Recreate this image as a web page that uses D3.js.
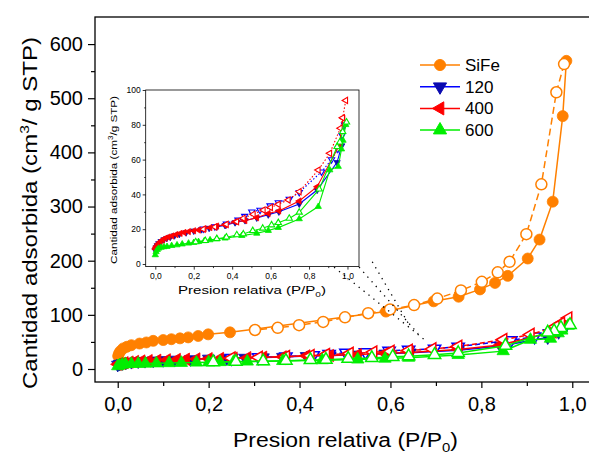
<!DOCTYPE html>
<html>
<head>
<meta charset="utf-8">
<script src="https://cdn.jsdelivr.net/npm/d3@7"></script>
<style>
  body { margin: 0; background: #fff; }
  svg { display: block; }
  text { font-family: "Liberation Sans", Arial, sans-serif; fill: #000; }
</style>
</head>
<body>
<svg id="chart" width="589" height="455"></svg>
<script>
// ---- N2 isotherm data: [relative pressure P/P0, adsorbed volume cm3/g STP] ----
const sifeAdsorption = [[0.001,24],[0.003,29],[0.006,33],[0.012,38],[0.02,41],[0.03,44],[0.048,47],[0.063,49],[0.078,52],[0.1,53.5],[0.118,55],[0.137,56.6],[0.155,58.4],[0.177,61],[0.199,64],[0.247,67.7],[0.59,106],[0.695,125],[0.75,133.5],[0.797,147],[0.83,159],[0.858,172],[0.902,204],[0.928,239],[0.957,309],[0.979,467],[0.987,569]];
const sifeDesorption = [[0.982,563],[0.965,511],[0.932,341],[0.899,249],[0.862,198],[0.836,178.5],[0.801,161],[0.755,145],[0.703,130],[0.652,118],[0.599,110],[0.551,103],[0.5,95.4],[0.452,87],[0.399,81],[0.352,76],[0.302,72]];

const s120Adsorption = [[0.0,7.8],[0.004,9.4],[0.01,10.6],[0.018,11.8],[0.03,13],[0.045,14],[0.06,14.8],[0.078,15.5],[0.1,16.3],[0.125,17.1],[0.16,18],[0.2,19],[0.24,19.8],[0.28,20.6],[0.32,21.4],[0.363,22.2],[0.415,23.8],[0.467,25],[0.528,26.5],[0.588,28.3],[0.643,30],[0.749,34.5],[0.842,42.5],[0.946,58.4],[0.97,68],[0.986,80]];
const s120Desorption = [[0.985,80],[0.972,74],[0.95,66],[0.917,60],[0.865,53],[0.749,41.2],[0.697,37.3],[0.64,35.3],[0.597,33.5],[0.545,31],[0.502,30],[0.465,27.5],[0.43,25.3],[0.37,23],[0.31,21.5],[0.25,20.2]];

const s400Adsorption = [[0.0,8.6],[0.003,9.6],[0.009,10.5],[0.015,11.6],[0.026,12.8],[0.038,13.9],[0.052,14.8],[0.068,15.5],[0.087,16.1],[0.108,16.9],[0.13,17.6],[0.15,18.1],[0.173,18.6],[0.2,19.1],[0.225,19.5],[0.255,20.2],[0.285,20.9],[0.32,21.8],[0.363,22.4],[0.415,24.3],[0.467,24.9],[0.528,26.6],[0.588,29],[0.643,30.5],[0.749,36.2],[0.842,44.4],[0.957,68],[0.977,83.7]];
const s400Desorption = [[0.991,94],[0.975,84],[0.963,78],[0.908,63.6],[0.848,54],[0.749,41.6],[0.692,36.8],[0.64,34.3],[0.6,32.5],[0.562,31],[0.51,28.6],[0.458,26.3],[0.424,24.3],[0.37,22.8],[0.31,21.3],[0.25,20]];

const s600Adsorption = [[0.0,5.2],[0.004,7],[0.01,8.2],[0.017,9],[0.03,9.5],[0.045,9.8],[0.061,10],[0.085,10.5],[0.113,10.9],[0.14,11.4],[0.173,11.9],[0.2,12.3],[0.225,12.8],[0.255,13.3],[0.285,13.8],[0.32,14.3],[0.363,14.8],[0.45,16.3],[0.528,17.6],[0.588,19.2],[0.64,20.9],[0.749,25.9],[0.848,33],[0.908,54],[0.952,56],[0.969,66],[0.977,71],[0.991,80]];
const s600Desorption = [[0.995,81.5],[0.975,76],[0.96,70],[0.946,67.4],[0.853,43],[0.749,29.7],[0.697,26.2],[0.64,23.7],[0.605,22.4],[0.559,20.5],[0.507,19.1],[0.458,17.2],[0.424,16.7],[0.37,15.4],[0.32,14.5],[0.26,13.4],[0.21,12.7]];

const seriesNames = ["SiFe", "120", "400", "600"];
const xTickValues = [0, 0.2, 0.4, 0.6, 0.8, 1.0];
const xMinorTickValues = [0.1, 0.3, 0.5, 0.7, 0.9];
const yTickValues = [0, 100, 200, 300, 400, 500, 600];
const yMinorTickValues = [50, 150, 250, 350, 450, 550];
const insetYTickValues = [0, 20, 40, 60, 80, 100];
const insetYMinorTickValues = [10, 30, 50, 70, 90];

// dotted guide lines between the inset and the low-pressure region (main-chart data units)
const guideLines = [
  [[0.476, 188], [0.681, 50]],
  [[0.531, 188], [0.661, 65]],
  [[0.560, 198], [0.643, 79]]
];

// ---- styles ----
const styles = {
  "SiFe": { color: "#FF8000", marker: "#FF8000", symbol: d3.symbolCircle, rotate: 0, withInset: false },
  "120":  { color: "#0000FF", marker: "#0A0AB0", symbol: d3.symbolTriangle, rotate: 180, withInset: true },
  "400":  { color: "#FF0000", marker: "#FF0000", symbol: d3.symbolTriangle, rotate: -90, withInset: true },
  "600":  { color: "#00EE00", marker: "#00EE00", symbol: d3.symbolTriangle, rotate: 0, withInset: true }
};
const seriesData = {
  "SiFe": [sifeAdsorption, sifeDesorption],
  "120":  [s120Adsorption, s120Desorption],
  "400":  [s400Adsorption, s400Desorption],
  "600":  [s600Adsorption, s600Desorption]
};
const desorptionDash = { "SiFe": "7,4", "120": "5,3", "400": "5,3", "600": null };
const insetDesorptionDash = { "120": "1.5,2", "400": "1.5,2", "600": null };

const fmt = d => d3.format(".1f")(d).replace(".", ",");
const svg = d3.select("#chart");

// ---- main plot ----
const x = d3.scaleLinear().domain([-0.05, 1.05]).range([95, 595]);
const y = d3.scaleLinear().domain([-24, 650]).range([382, 17]);

function drawSeries(g, xs, ys, name, size, lw, dashMap) {
  const st = styles[name];
  const [ads, des] = seriesData[name];
  const line = d3.line().x(d => xs(d[0])).y(d => ys(d[1]));
  const sym = d3.symbol().type(st.symbol).size(size);
  g.append("path").attr("d", line(ads)).attr("fill", "none")
    .attr("stroke", st.color).attr("stroke-width", lw);
  g.append("path").attr("d", line(des)).attr("fill", "none")
    .attr("stroke", st.color).attr("stroke-width", lw)
    .attr("stroke-dasharray", dashMap[name]);
  g.selectAll(null).data(ads).enter().append("path")
    .attr("d", sym)
    .attr("transform", d => `translate(${xs(d[0])},${ys(d[1])}) rotate(${st.rotate})`)
    .attr("fill", st.marker).attr("stroke", st.marker).attr("stroke-width", 0.8);
  g.selectAll(null).data(des).enter().append("path")
    .attr("d", sym)
    .attr("transform", d => `translate(${xs(d[0])},${ys(d[1])}) rotate(${st.rotate})`)
    .attr("fill", "#fff").attr("stroke", st.color).attr("stroke-width", lw);
}

const plot = svg.append("g");
seriesNames.forEach(n => {
  const size = n === "SiFe" ? 95 : 66;
  drawSeries(plot, x, y, n, size, 1.5, desorptionDash);
});

// frame
svg.append("rect").attr("x", 95).attr("y", 17).attr("width", 500).attr("height", 365)
  .attr("fill", "none").attr("stroke", "#000").attr("stroke-width", 1.3);

// axes
const yAxis = svg.append("g").attr("transform", "translate(95,0)")
  .call(d3.axisLeft(y).tickValues(yTickValues).tickSize(7).tickPadding(5).tickFormat(d3.format("d")));
const yMinor = svg.append("g").attr("transform", "translate(95,0)")
  .call(d3.axisLeft(y).tickValues(yMinorTickValues).tickSize(4).tickFormat(""));
const xAxis = svg.append("g").attr("transform", "translate(0,382)")
  .call(d3.axisBottom(x).tickValues(xTickValues).tickSize(6).tickPadding(9).tickFormat(fmt));
const xMinor = svg.append("g").attr("transform", "translate(0,382)")
  .call(d3.axisBottom(x).tickValues(xMinorTickValues).tickSize(4).tickFormat(""));
[yAxis, yMinor, xAxis, xMinor].forEach(a => {
  a.select(".domain").remove();
  a.selectAll("line").attr("stroke", "#000").attr("stroke-width", 1.2);
  a.selectAll("text").attr("font-family", "Liberation Sans, Arial, sans-serif").attr("font-size", 20);
});

// axis titles
svg.append("text").attr("x", 233).attr("y", 447).attr("font-size", 20)
  .attr("textLength", 225).attr("lengthAdjust", "spacingAndGlyphs")
  .html('Presion relativa (P/P<tspan dy="5" font-size="13">0</tspan><tspan dy="-5">)</tspan>');
svg.append("text").attr("transform", "translate(37,389) rotate(-90)").attr("font-size", 20)
  .attr("textLength", 352).attr("lengthAdjust", "spacingAndGlyphs")
  .html('Cantidad adsorbida (cm<tspan dy="-8" font-size="13">3</tspan><tspan dy="8">/ g STP)</tspan>');

// guide lines
guideLines.forEach(gl => {
  svg.append("line")
    .attr("x1", x(gl[0][0])).attr("y1", y(gl[0][1]))
    .attr("x2", x(gl[1][0])).attr("y2", y(gl[1][1]))
    .attr("stroke", "#000").attr("stroke-width", 1.3)
    .attr("stroke-dasharray", "1.3,5");
});

// ---- legend ----
const legend = svg.append("g");
seriesNames.forEach((n, i) => {
  const st = styles[n];
  const ly = 65 + i * 21.7;
  legend.append("line").attr("x1", 420).attr("x2", 460).attr("y1", ly).attr("y2", ly)
    .attr("stroke", st.color).attr("stroke-width", 1.5);
  legend.append("path")
    .attr("d", d3.symbol().type(st.symbol).size(n === "SiFe" ? 95 : 75))
    .attr("transform", `translate(440,${ly}) rotate(${st.rotate})`)
    .attr("fill", st.marker).attr("stroke", st.marker);
  legend.append("text").attr("x", 465).attr("y", ly + 6).attr("font-size", 17).text(n);
});

// ---- inset (series 120, 400, 600) ----
const ix = d3.scaleLinear().domain([-0.05, 1.06]).range([145.7, 359]);
const iy = d3.scaleLinear().domain([-1.5, 100]).range([266.6, 90]);
const inset = svg.append("g");
inset.append("rect").attr("x", 145.7).attr("y", 90).attr("width", 359 - 145.7).attr("height", 266.6 - 90)
  .attr("fill", "#fff");
seriesNames.filter(n => styles[n].withInset).forEach(n => {
  drawSeries(inset, ix, iy, n, 17, 1.1, insetDesorptionDash);
});
inset.append("rect").attr("x", 145.7).attr("y", 90).attr("width", 359 - 145.7).attr("height", 266.6 - 90)
  .attr("fill", "none").attr("stroke", "#000").attr("stroke-width", 0.8);
const iyAxis = inset.append("g").attr("transform", "translate(145.7,0)")
  .call(d3.axisLeft(iy).tickValues(insetYTickValues).tickSize(3).tickPadding(2).tickFormat(d3.format("d")));
const iyMinor = inset.append("g").attr("transform", "translate(145.7,0)")
  .call(d3.axisLeft(iy).tickValues(insetYMinorTickValues).tickSize(1.5).tickFormat(""));
const ixAxis = inset.append("g").attr("transform", "translate(0,266.6)")
  .call(d3.axisBottom(ix).tickValues(xTickValues).tickSize(3).tickPadding(3).tickFormat(fmt));
const ixMinor = inset.append("g").attr("transform", "translate(0,266.6)")
  .call(d3.axisBottom(ix).tickValues(xMinorTickValues).tickSize(1.5).tickFormat(""));
[iyAxis, iyMinor, ixAxis, ixMinor].forEach(a => {
  a.select(".domain").remove();
  a.selectAll("line").attr("stroke", "#000").attr("stroke-width", 0.8);
  a.selectAll("text").attr("font-family", "Liberation Sans, Arial, sans-serif").attr("font-size", 8.5);
});
inset.append("text").attr("x", 178).attr("y", 294).attr("font-size", 10.5)
  .attr("textLength", 148).attr("lengthAdjust", "spacingAndGlyphs")
  .html('Presion relativa (P/P<tspan dy="3" font-size="7">0</tspan><tspan dy="-3">)</tspan>');
inset.append("text").attr("transform", "translate(117,264) rotate(-90)").attr("font-size", 9.5)
  .attr("textLength", 168).attr("lengthAdjust", "spacingAndGlyphs")
  .html('Cantidad adsorbida (cm<tspan dy="-4" font-size="6.5">3</tspan><tspan dy="4">/g STP)</tspan>');
</script>
</body>
</html>
